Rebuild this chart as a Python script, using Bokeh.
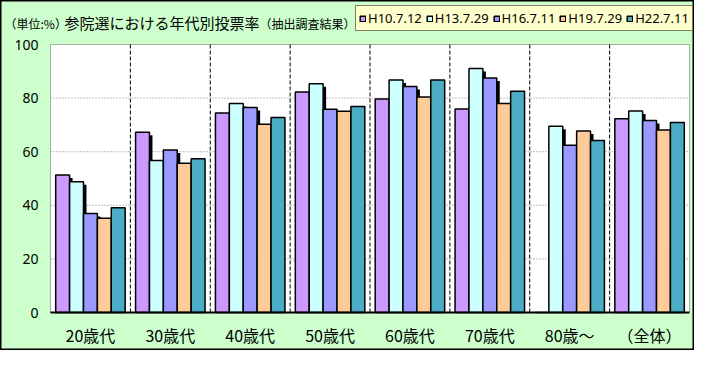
import numpy as np
from bokeh.plotting import figure
from bokeh.models import (Range1d, FixedTicker, ColumnDataSource, Legend, LegendItem, Label, BoxAnnotation)
from bokeh.embed import file_html
from bokeh.resources import INLINE

categories = ["20歳代", "30歳代", "40歳代", "50歳代", "60歳代", "70歳代", "80歳～", "（全体）"]
series_names = ["H10.7.12", "H13.7.29", "H16.7.11", "H19.7.29", "H22.7.11"]
h10 = [51.3, 67.3, 74.4, 82.3, 79.7, 75.9, 0.0, 72.3]
h13 = [48.8, 56.7, 78.0, 85.4, 86.8, 91.0, 69.5, 75.2]
h16 = [36.9, 60.6, 76.5, 75.8, 84.3, 87.5, 62.4, 71.6]
h19 = [35.2, 55.7, 70.2, 75.1, 80.4, 78.0, 67.7, 68.1]
h22 = [39.1, 57.4, 72.8, 76.9, 86.8, 82.6, 64.2, 70.9]
series_values = [h10, h13, h16, h19, h22]
colors = ["#CC99FF", "#CCFFFF", "#9999FF", "#FFCC99", "#4BACC6"]
y_ticks = [0, 20, 40, 60, 80, 100]
grid_ticks = [20, 40, 60, 80]

FONT_CJK = "Noto Sans CJK JP"
W, H = 694, 350
GREEN = "#CCFFCC"

n = len(categories)
# pixel geometry of the plot area inside the figure
PL, PR = 50, 689      # plot area left/right (px)
PT, PB = 44, 312      # plot area top(y=100)/bottom(y=0) (px)
sx = (PR - PL) / n     # px per category
sy = (PB - PT) / 100.0 # px per unit
x0 = -PL / sx
x1 = n + (W - PR) / sx
y0 = -(H - PB) / sy
y1 = 100 + PT / sy

p = figure(width=W, height=H, x_range=Range1d(x0, x1), y_range=Range1d(y0, y1),
           output_backend="svg", toolbar_location=None,
           min_border_left=0, min_border_right=0, min_border_top=0, min_border_bottom=0,
           background_fill_color=GREEN, border_fill_color=GREEN,
           outline_line_color="black", outline_line_width=2)
p.xgrid.grid_line_color = None
p.ygrid.grid_line_color = None

# plot area
p.add_layout(BoxAnnotation(left=0, right=n, bottom=0, top=100, fill_color="white", fill_alpha=1,
                           line_color="black", line_width=1, level="underlay"))

# grid lines
p.segment(x0=0, x1=n, y0=grid_ticks, y1=grid_ticks, line_color="#808080", line_dash="1 2", line_width=1)
bounds = list(range(1, n))
p.segment(x0=bounds, x1=bounds, y0=0, y1=100, line_color="black", line_dash="4 2", line_width=1)

centers = np.arange(n) + 0.5
bw = 0.174
px_x = 1.0 / sx
px_y = 1.0 / sy

# shadows (fall on the right neighbour)
for j, vals in enumerate(series_values[:-1]):
    xs = centers + (j - 2) * bw + bw / 2 + 1.5 * px_x
    tops = np.maximum(np.array(vals) - 3 * px_y, 0)
    src = ColumnDataSource(dict(x=xs, top=tops))
    p.vbar(x="x", top="top", bottom=0, width=3 * px_x, source=src,
           fill_color="black", line_color=None)

renderers = []
for j, (vals, c) in enumerate(zip(series_values, colors)):
    xs = centers + (j - 2) * bw
    src = ColumnDataSource(dict(x=xs, top=vals))
    r = p.vbar(x="x", top="top", bottom=0, width=bw, source=src,
               fill_color=c, line_color="black", line_width=1.5)
    renderers.append(r)

# bottom baseline
p.segment(x0=0, x1=n, y0=0, y1=0, line_color="black", line_width=2)

# axes fixed at the plot-area edges
p.xaxis.fixed_location = 0
p.xaxis.ticker = FixedTicker(ticks=list(centers))
p.xaxis.major_label_overrides = {float(c): cat for c, cat in zip(centers, categories)}
p.xaxis.major_tick_out = 0
p.xaxis.major_tick_in = 0
p.xaxis.minor_tick_out = 0
p.xaxis.minor_tick_in = 0
p.xaxis.axis_line_color = None
p.xaxis.major_label_text_font = FONT_CJK
p.xaxis.major_label_text_font_size = "16px"
p.xaxis.major_label_text_color = "black"
p.xaxis.major_label_standoff = 10

p.yaxis.fixed_location = 0
p.yaxis.ticker = FixedTicker(ticks=y_ticks)
p.yaxis.major_tick_out = 0
p.yaxis.major_tick_in = 0
p.yaxis.minor_tick_out = 0
p.yaxis.minor_tick_in = 0
p.yaxis.axis_line_color = None
p.yaxis.major_label_text_font = "Noto Sans"
p.yaxis.major_label_text_font_size = "14px"
p.yaxis.major_label_text_color = "black"
p.yaxis.major_label_standoff = 12

def fx(px):
    return x0 + px / sx

def fy(py):
    return y1 - py / sy

# title
p.add_layout(Label(x=fx(4), y=fy(23), text="（単位:%）",
                   text_font=FONT_CJK, text_font_size="12px", text_baseline="middle",
                   text_align="left", text_color="black"))
p.add_layout(Label(x=fx(64), y=fy(21.5), text="参院選における年代別投票率",
                   text_font=FONT_CJK, text_font_size="15px", text_baseline="middle",
                   text_align="left", text_color="black"))
p.add_layout(Label(x=fx(259), y=fy(23), text="（抽出調査結果）",
                   text_font=FONT_CJK, text_font_size="12px", text_baseline="middle",
                   text_align="left", text_color="black"))

legend = Legend(items=[LegendItem(label=nm, renderers=[r]) for nm, r in zip(series_names, renderers)],
                orientation="horizontal", location=(355, H - 31),
                background_fill_color="#FFFFCC", background_fill_alpha=1,
                border_line_color="black", border_line_width=1,
                glyph_width=7, glyph_height=7, label_standoff=2, spacing=4,
                padding=3, margin=0, label_height=14,
                label_text_font="Noto Sans", label_text_font_size="13px",
                label_text_color="black")
p.add_layout(legend, "center")

open("out.html", "w").write(file_html(p, INLINE))
